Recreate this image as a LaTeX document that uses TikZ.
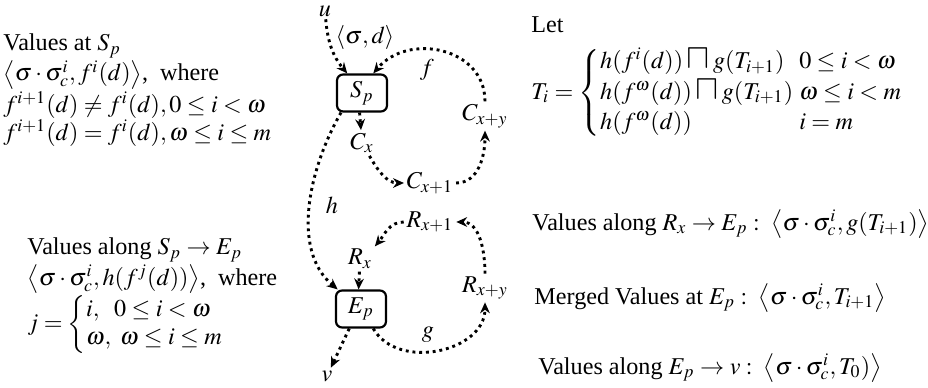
\documentclass[tikz,border=0pt]{standalone}
\usepackage{amsmath,amssymb}
\usepackage{mathptmx}
\usepackage[no-math]{fontspec}
\setmainfont{Liberation Serif}
\usepackage{tikz}
\usetikzlibrary{arrows.meta,positioning,calc}
\newcommand{\tightlines}{\fontsize{10}{11.5}\selectfont}
\tikzset{
  stage/.style={draw,rounded corners=2.5pt,line width=0.9pt,
    minimum width=20.7pt,minimum height=15.3pt,inner sep=1pt},
  flow/.style={-{Stealth[length=4.5pt,width=4pt]},line width=1.2pt,
    dash pattern=on 1.2pt off 1.6pt},
  note/.style={align=left,anchor=west,inner sep=0pt},
  tight/.style={font=\tightlines}
}
\newcommand{\sqmeet}{\mathbin{\text{\Large$\sqcap$}}}

\begin{document}
\begin{tikzpicture}[x=0.414pt,y=0.414pt,
  lbl/.style={inner sep=1pt}
]
  \useasboundingbox (0,0) rectangle (928,388);
  \node[stage] (Sp) at (362,295) {$S_p$};
  \node[stage] (Ep) at (361,79) {$E_p$};
  \node[lbl] (u) at (325,377) {$u$};
  \node[lbl] (v) at (327,12) {$v$};
  \node[lbl] (Cx) at (362,245) {$C_x$};
  \node[lbl] (Cx1) at (430,205) {$C_{x+1}$};
  \node[lbl] (Cxy) at (485,272) {$C_{x+y}$};
  \node[lbl] (Rx) at (360,129) {$R_x$};
  \node[lbl] (Rx1) at (430,166) {$R_{x+1}$};
  \node[lbl] (Rxy) at (485,100) {$R_{x+y}$};
  \node[lbl] (sd) at (365,350) {$\langle\sigma,d\rangle$};
  \node[lbl] (flbl) at (427,318) {$f$};
  \node[lbl] (hlbl) at (332,183) {$h$};
  \node[lbl] (glbl) at (428,53) {$g$};
  % loop through C
  \draw[flow] (u) to[out=-85,in=130] (Sp.127);
  \draw[flow] (Sp.-97) -- (Cx);
  \draw[flow] (Cx.-60) to[out=-60,in=180] (Cx1.west);
  \draw[flow] (Cx1.east) to[out=0,in=-90] (Cxy.south);
  \draw[flow] (Cxy.north) to[out=90,in=50,looseness=1.2] (Sp.60);
  \draw[flow] (Sp.-137) to[out=-120,in=140,looseness=0.9] (Ep.140);
  % loop through R
  \draw[flow] (Ep.-58) to[out=-60,in=-90,looseness=1.1] (Rxy.south);
  \draw[flow] (Rxy.north) to[out=90,in=0] (Rx1.east);
  \draw[flow] (Rx1.west) to[out=180,in=50] (Rx.north east);
  \draw[flow] (Rx) -- (Ep.97);
  \draw[flow] (Ep.-121) -- (v);
  % texts
  \node[note,tight] (vals) at (3,298) {Values at $S_p$\\
    $\big\langle\sigma\cdot\sigma_c^i,f^i(d)\big\rangle$,\ \ where\\
    $f^{i+1}(d)\neq f^i(d),0\le i<\omega$\\
    $f^{i+1}(d)=f^i(d),\omega\le i\le m$};
  \node[note,tight] (along) at (27,92) {Values along $S_p\rightarrow E_p$\\
    $\big\langle\sigma\cdot\sigma_c^i,h(f^j(d))\big\rangle$,\ \ where\\
    $j=\left\{\begin{array}{@{}l@{}}
      i,\ \ 0\le i<\omega\\ \omega,\ \omega\le i\le m\end{array}\right.$};
  \node[note] (let) at (531,363) {Let};
  \node[note] (Ti) at (531,295) {$T_i=\left\{\renewcommand{\arraystretch}{1.05}\begin{array}{@{}l@{\ }l@{}}
    h(f^i(d))\sqmeet g(T_{i+1}) & 0\le i<\omega\\
    h(f^\omega(d))\sqmeet g(T_{i+1}) & \omega\le i<m\\
    h(f^\omega(d)) & i=m\end{array}\right.$};
  \node[note] (alongR) at (532,164) {Values along $R_x\rightarrow E_p:\ \big\langle\sigma\cdot\sigma_c^i,g(T_{i+1})\big\rangle$};
  \node[note] (merged) at (534,90) {Merged Values at $E_p:\ \big\langle\sigma\cdot\sigma_c^i,T_{i+1}\big\rangle$};
  \node[note] (alongE) at (538,20) {Values along $E_p\rightarrow v:\ \big\langle\sigma\cdot\sigma_c^i,T_0)\big\rangle$};
\end{tikzpicture}
\end{document}
